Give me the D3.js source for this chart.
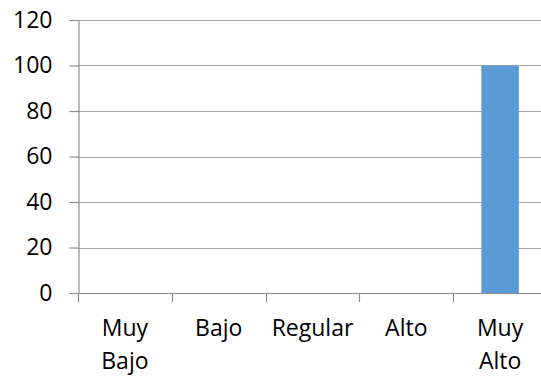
<!DOCTYPE html>
<html><head><meta charset="utf-8">
<script src="https://cdn.jsdelivr.net/npm/d3@7"></script>
<style>html,body{margin:0;padding:0;background:#fff;overflow:hidden}</style>
</head><body>
<svg id="c" width="541" height="376"></svg>
<script>
const categories = [["Muy","Bajo"],["Bajo"],["Regular"],["Alto"],["Muy","Alto"]];
const values = [0, 0, 0, 0, 100];
const yTicks = [0, 20, 40, 60, 80, 100, 120];

(function () {
const svg = d3.select("#c");
const font = "'Open Sans', Lato, sans-serif";
const mLeft = 78, mRight = 547, mTop = 20, mBottom = 293;
const keys = categories.map(c => c.join(" "));
const x = d3.scaleBand().domain(keys).range([mLeft, mRight]).padding(0);
const y = d3.scaleLinear().domain([0, 120]).range([mBottom, mTop]);

// gridlines
svg.append("g").selectAll("line").data(yTicks.filter(t => t > 0)).join("line")
  .attr("x1", mLeft).attr("x2", mRight)
  .attr("y1", d => Math.round(y(d)) + 0.5).attr("y2", d => Math.round(y(d)) + 0.5)
  .attr("stroke", "#a6a6a6").attr("stroke-width", 1.2);

// y axis
const ya = svg.append("g").attr("transform", `translate(${mLeft + 0.5},0)`)
  .call(d3.axisLeft(y).tickValues(yTicks).tickSize(9).tickPadding(17).tickSizeOuter(0));
ya.select(".domain").attr("stroke", "#8c8c8c").attr("stroke-width", 1.2);
ya.selectAll(".tick line").attr("stroke", "#8c8c8c").attr("stroke-width", 1.2);
ya.selectAll(".tick text").attr("font-family", font).attr("font-size", 23).attr("fill", "#000");

// bars
svg.append("g").selectAll("rect").data(values.map((v, i) => ({k: keys[i], v}))).join("rect")
  .attr("x", d => x(d.k) + x.bandwidth() * 0.3)
  .attr("width", x.bandwidth() * 0.4)
  .attr("y", d => y(d.v)).attr("height", d => y(0) - y(d.v))
  .attr("fill", "#5b9bd5");

// x axis line
svg.append("line").attr("x1", mLeft).attr("x2", mRight)
  .attr("y1", Math.round(y(0)) + 0.5).attr("y2", Math.round(y(0)) + 0.5)
  .attr("stroke", "#8c8c8c").attr("stroke-width", 1.2);
// category boundary ticks
const bounds = keys.map(k => x(k)).concat([mRight]);
svg.append("g").selectAll("line").data(bounds).join("line")
  .attr("x1", d => Math.round(d) + 0.5).attr("x2", d => Math.round(d) + 0.5)
  .attr("y1", Math.round(y(0))).attr("y2", Math.round(y(0)) + 9)
  .attr("stroke", "#8c8c8c").attr("stroke-width", 1.2);

// category labels
const lab = svg.append("g").selectAll("text").data(categories).join("text")
  .attr("x", (d, i) => x(keys[i]) + x.bandwidth() / 2)
  .attr("y", 336)
  .attr("text-anchor", "middle")
  .attr("font-family", font).attr("font-size", 23).attr("fill", "#000");
lab.selectAll("tspan").data(d => d).join("tspan")
  .attr("x", function() { return this.parentNode.getAttribute("x"); })
  .attr("dy", (d, i) => i === 0 ? 0 : 33)
  .text(d => d);
})();
</script>
</body></html>
